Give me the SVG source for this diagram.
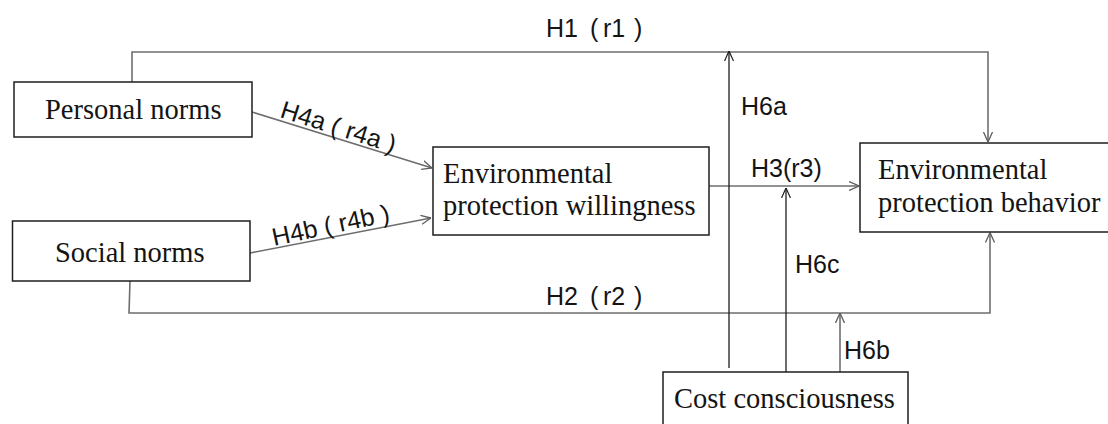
<svg xmlns="http://www.w3.org/2000/svg" width="1108" height="424" viewBox="0 0 1108 424">
  <style>
    .box { fill: #ffffff; stroke: #1e1e1e; stroke-width: 1.5; }
    .node-text { font-family: "Liberation Serif", "Times New Roman", serif; font-size: 28.5px; fill: #141414; }
    .label { font-family: "Liberation Sans", Arial, sans-serif; font-size: 25px; fill: #141414; }
    .link { fill: none; stroke: #6e6e6e; stroke-width: 1.6; }
    .link-dark { fill: none; stroke: #1e1e1e; stroke-width: 1.3; }
  </style>
  <defs>
    <marker id="arrow" viewBox="0 0 10 10" refX="10" refY="5" markerWidth="10" markerHeight="10" markerUnits="userSpaceOnUse" orient="auto">
      <path d="M0,0.5 L10,5 L0,9.5" fill="none" stroke="#5e5e5e" stroke-width="1.3"/>
    </marker>
    <marker id="arrow-dark" viewBox="0 0 10 10" refX="10" refY="5" markerWidth="10" markerHeight="10" markerUnits="userSpaceOnUse" orient="auto">
      <path d="M0,0.5 L10,5 L0,9.5" fill="none" stroke="#1e1e1e" stroke-width="1.2"/>
    </marker>
  </defs>

  <rect width="1108" height="424" fill="#ffffff"/>

  <!-- connectors -->
  <g id="connectors">
    <!-- H1: personal norms -> behavior, over the top -->
    <path class="link" d="M132,82 L132,52 L988,52 L988,142" marker-end="url(#arrow)"/>
    <!-- H2: social norms -> behavior, under the bottom -->
    <path class="link" d="M130,281 L129,313 L990,313 L990,232.5" marker-end="url(#arrow)"/>
    <!-- H4a / H4b: norms -> willingness -->
    <path class="link" d="M252,112 L432,168" marker-end="url(#arrow)"/>
    <path class="link" d="M250,253 L431,218" marker-end="url(#arrow)"/>
    <!-- H3: willingness -> behavior -->
    <path class="link" d="M709,186 L859,186" marker-end="url(#arrow)"/>
    <!-- moderating paths from cost consciousness -->
    <path class="link-dark" d="M729,368 L729,51" marker-end="url(#arrow-dark)"/>
    <path class="link-dark" d="M786,372 L786,188" marker-end="url(#arrow-dark)"/>
    <path class="link" d="M840,372 L840,313" marker-end="url(#arrow)"/>

    <!-- path labels -->
    <text class="label" y="37"><tspan x="546">H1</tspan><tspan x="590">(</tspan><tspan x="603">r1</tspan><tspan x="634">)</tspan></text>
    <text class="label" y="305"><tspan x="546">H2</tspan><tspan x="590">(</tspan><tspan x="603">r2</tspan><tspan x="634">)</tspan></text>
    <text class="label" x="741" y="115">H6a</text>
    <text class="label" x="751" y="177">H3(r3)</text>
    <text class="label" x="795" y="273">H6c</text>
    <text class="label" x="844" y="359">H6b</text>
    <text class="label" transform="translate(279,117) rotate(17.5)" xml:space="preserve">H4a ( r4a )</text>
    <text class="label" transform="translate(274,246) rotate(-12)" xml:space="preserve">H4b ( r4b )</text>
  </g>

  <!-- nodes -->
  <g id="personal-norms">
    <rect class="box" x="14" y="82" width="238" height="55"/>
    <text class="node-text" x="45" y="119">Personal norms</text>
  </g>
  <g id="social-norms">
    <rect class="box" x="12.5" y="221" width="237.5" height="60"/>
    <text class="node-text" x="55" y="262">Social norms</text>
  </g>
  <g id="willingness">
    <rect class="box" x="433" y="147" width="276" height="88"/>
    <text class="node-text" x="443" y="183">Environmental</text>
    <text class="node-text" x="443" y="215">protection willingness</text>
  </g>
  <g id="behavior">
    <rect class="box" x="860" y="143" width="260" height="89"/>
    <text class="node-text" x="878" y="179">Environmental</text>
    <text class="node-text" x="878" y="212">protection behavior</text>
  </g>
  <g id="cost-consciousness">
    <rect class="box" x="663" y="372" width="245" height="70"/>
    <text class="node-text" x="674" y="408">Cost consciousness</text>
  </g>
</svg>
